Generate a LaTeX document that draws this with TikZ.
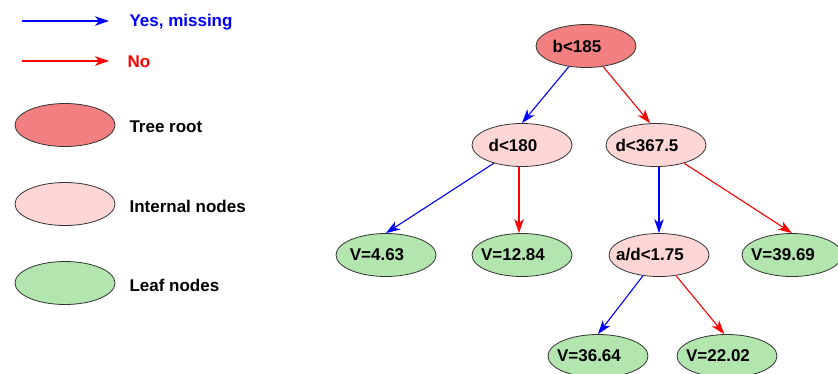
\documentclass[tikz,border=0pt]{standalone}
\usepackage{fontspec}
\setmainfont{Liberation Sans}
\usetikzlibrary{shapes.geometric,arrows.meta}

\definecolor{rootred}{RGB}{242,128,128}
\definecolor{innerpink}{RGB}{255,214,214}
\definecolor{leafgreen}{RGB}{178,230,174}

\begin{document}
\begin{tikzpicture}[x=1pt,y=-1pt]
    \tikzstyle{every node}=[font=\fontsize{17}{20}\selectfont\bfseries]
    \tikzstyle{oval}=[draw=black!80,line width=0.8pt,ellipse,minimum width=100pt,minimum height=43pt,inner sep=0pt]
    % labels sit a little left of the centre
    \tikzstyle{treenode}=[oval,execute at begin node={\hspace*{-18pt}}]
    \tikzstyle{yes}=[draw=blue,line width=1.1pt,-{Stealth[length=14pt,width=9.5pt,inset=4pt]}]
    \tikzstyle{no}=[draw=red,line width=1.1pt,-{Stealth[length=14pt,width=9.5pt,inset=4pt]}]
    \useasboundingbox (0,0) rectangle (838,373);

    % legend: arrows
    \coordinate (yesfrom) at (22,21);
    \coordinate (yesto) at (109,21);
    \draw[yes] (yesfrom) -- (yesto);
    \node[anchor=west,text=blue] (yeslabel) at (126,22) {Yes, missing};
    \coordinate (nofrom) at (22,61);
    \coordinate (noto) at (109,61);
    \draw[no] (nofrom) -- (noto);
    \node[anchor=west,text=red] (nolabel) at (124,62) {No};

    % legend: node kinds
    \node[oval,fill=rootred] (keyroot) at (65,125) {};
    \node[anchor=west] (keyrootlabel) at (126,127) {Tree root};
    \node[oval,fill=innerpink] (keyinner) at (65,204) {};
    \node[anchor=west] (keyinnerlabel) at (126,206) {Internal nodes};
    \node[oval,fill=leafgreen] (keyleaf) at (65,283) {};
    \node[anchor=west] (keyleaflabel) at (126,285) {Leaf nodes};

    % tree root
    \node[treenode,fill=rootred] (root) at (586,46) {b<185};

    % internal nodes
    \node[treenode,fill=innerpink] (dleft) at (522,145) {d<180};
    \node[treenode,fill=innerpink] (dright) at (656,145) {d<367.5};
    \node[treenode,fill=innerpink] (ad) at (659,255) {a/d<1.75};

    % leaves
    \node[treenode,fill=leafgreen] (leafa) at (386,255) {V=4.63};
    \node[treenode,fill=leafgreen] (leafb) at (522,255) {V=12.84};
    \node[treenode,fill=leafgreen] (leafc) at (792,255) {V=39.69};
    \node[treenode,fill=leafgreen] (leafd) at (598,356) {V=36.64};
    \node[treenode,fill=leafgreen] (leafe) at (727,356) {V=22.02};

    % splits
    \draw[yes] (root) -- (dleft.north);
    \draw[no] (root) -- (dright.105);
    \draw[yes] (dleft) -- (leafa.north);
    \draw[no] ([xshift=-3pt]dleft.south) -- ([xshift=-3pt]leafb.north);
    \draw[yes] (dright.south-|ad.north) -- (ad.north);
    \draw[no] (dright) -- (leafc.north);
    \draw[yes] (ad) -- (leafd.north);
    \draw[no] (ad) -- (leafe.97);
\end{tikzpicture}
\end{document}
